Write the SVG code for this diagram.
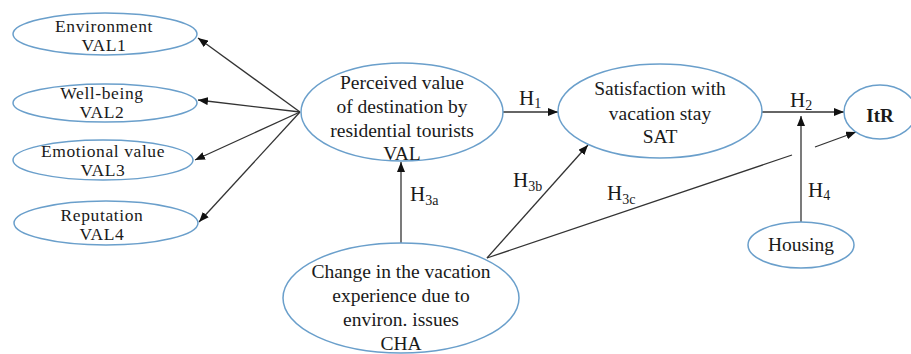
<svg xmlns="http://www.w3.org/2000/svg" width="911" height="354" viewBox="0 0 911 354">
<style>
.n{fill:#fff;stroke:#6a9fcb;stroke-width:1.5}
.t{font-family:"Liberation Serif","Times New Roman",serif;font-size:19.5px;fill:#1a1a1a;text-anchor:middle}
.m{font-size:17.5px;letter-spacing:0.6px}
.h{font-family:"Liberation Serif","Times New Roman",serif;font-size:21px;fill:#1a1a1a}
.s{font-size:14px}
.c{stroke:#333;stroke-width:1.3;fill:none;marker-end:url(#a)}
.p{stroke:#333;stroke-width:1.3;fill:none}
</style>
<defs>
<marker id="a" viewBox="0 0 10 8" refX="10" refY="4" markerWidth="10" markerHeight="8" markerUnits="userSpaceOnUse" orient="auto">
<path d="M0,0 L10,4 L0,8 z" fill="#111"/>
</marker>
</defs>
<rect width="911" height="354" fill="#fff"/>
<g id="connectors">
<line class="c" x1="300" y1="112" x2="198" y2="38"/>
<line class="c" x1="300" y1="112" x2="198" y2="100"/>
<line class="c" x1="300" y1="112" x2="195" y2="160"/>
<line class="c" x1="300" y1="112" x2="199" y2="222"/>
<line class="c" x1="503" y1="112" x2="558" y2="112"/>
<line class="c" x1="762" y1="112" x2="844" y2="112"/>
<line class="c" x1="401" y1="243" x2="401" y2="162"/>
<line class="c" x1="487" y1="258" x2="588" y2="145"/>
<line class="p" x1="487" y1="258" x2="792" y2="155"/>
<line class="c" x1="815" y1="147" x2="856" y2="132"/>
<line class="c" x1="801" y1="222" x2="801" y2="116"/>
<text class="h" x="519" y="105">H<tspan class="s" dy="3">1</tspan></text>
<text class="h" x="790" y="107">H<tspan class="s" dy="3">2</tspan></text>
<text class="h" x="410" y="201">H<tspan class="s" dy="4">3a</tspan></text>
<text class="h" x="513" y="187">H<tspan class="s" dy="4">3b</tspan></text>
<text class="h" x="607" y="200">H<tspan class="s" dy="4">3c</tspan></text>
<text class="h" x="808" y="197">H<tspan class="s" dy="3">4</tspan></text>
</g>
<g id="VAL1">
<ellipse class="n" cx="105" cy="34" rx="92" ry="21"/>
<text class="t m" x="104" y="32">Environment</text>
<text class="t m" x="104" y="51">VAL1</text>
</g>
<g id="VAL2">
<ellipse class="n" cx="105" cy="103" rx="92" ry="19"/>
<text class="t m" x="102" y="99">Well-being</text>
<text class="t m" x="102" y="118">VAL2</text>
</g>
<g id="VAL3">
<ellipse class="n" cx="103" cy="160" rx="90" ry="20"/>
<text class="t m" x="103" y="157">Emotional value</text>
<text class="t m" x="103" y="176">VAL3</text>
</g>
<g id="VAL4">
<ellipse class="n" cx="106" cy="223" rx="92" ry="22"/>
<text class="t m" x="102" y="221">Reputation</text>
<text class="t m" x="102" y="240">VAL4</text>
</g>
<g id="VAL">
<ellipse class="n" cx="402" cy="112" rx="101" ry="49"/>
<text class="t" x="402" y="89">Perceived value</text>
<text class="t" x="402" y="113">of destination by</text>
<text class="t" x="402" y="137">residential tourists</text>
<text class="t" x="402" y="160">VAL</text>
</g>
<g id="SAT">
<ellipse class="n" cx="660" cy="111" rx="102" ry="47"/>
<text class="t" x="660" y="95">Satisfaction with</text>
<text class="t" x="660" y="120">vacation stay</text>
<text class="t" x="660" y="143">SAT</text>
</g>
<g id="ItR">
<ellipse class="n" cx="880" cy="112" rx="36" ry="27"/>
<text class="t" x="880" y="122" style="font-weight:bold;font-size:19px">ItR</text>
</g>
<g id="Housing">
<ellipse class="n" cx="801" cy="245" rx="53" ry="23"/>
<text class="t" x="801" y="251">Housing</text>
</g>
<g id="CHA">
<ellipse class="n" cx="401" cy="298" rx="118" ry="55"/>
<text class="t" x="401" y="278">Change in the vacation</text>
<text class="t" x="401" y="302">experience due to</text>
<text class="t" x="401" y="326">environ. issues</text>
<text class="t" x="401" y="350">CHA</text>
</g>
</svg>
